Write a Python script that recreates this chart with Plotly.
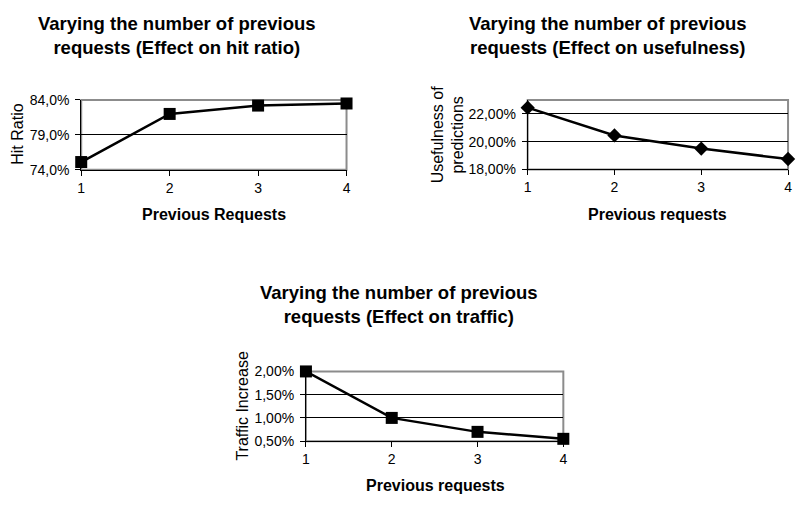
import plotly.graph_objects as go

W, H = 797, 506

prev_requests = [1, 2, 3, 4]
hit_ratio = [75.1, 82.0, 83.2, 83.5]
usefulness = [22.45, 20.45, 19.5, 18.75]
traffic = [2.0, 1.0, 0.7, 0.55]

hit_ticks = [74, 79, 84]
hit_ticktext = ["74,0%", "79,0%", "84,0%"]
use_ticks = [18, 20, 22]
use_ticktext = ["18,00%", "20,00%", "22,00%"]
traf_ticks = [0.5, 1.0, 1.5, 2.0]
traf_ticktext = ["0,50%", "1,00%", "1,50%", "2,00%"]

FONT = "Liberation Sans, Arial, Helvetica, sans-serif"


def px_x(p):
    return p / W


def px_y(p):
    return 1 - p / H


fig = go.Figure()

panels = [
    dict(y=hit_ratio, sym="square", size=12,
         xdom=[78, 346], ydom=[95, 167], yrange=[74, 84],
         tv=hit_ticks, tt=hit_ticktext),
    dict(y=usefulness, sym="diamond", size=11,
         xdom=[529, 792], ydom=[95, 166.7], yrange=[18, 23],
         tv=use_ticks, tt=use_ticktext),
    dict(y=traffic, sym="square", size=12,
         xdom=[305, 565], ydom=[375.3, 447.3], yrange=[0.5, 2.0],
         tv=traf_ticks, tt=traf_ticktext),
]

layout = dict(
    width=W, height=H, margin=dict(l=0, r=0, t=0, b=0),
    paper_bgcolor="white", plot_bgcolor="white", showlegend=False,
    hovermode=False,
    font=dict(family=FONT, color="black", size=14),
)
shapes = []
for i, p in enumerate(panels):
    sfx = "" if i == 0 else str(i + 1)
    fig.add_trace(go.Scatter(
        x=prev_requests, y=p["y"], mode="lines+markers",
        xaxis="x" + sfx, yaxis="y" + sfx, cliponaxis=False,
        line=dict(color="black", width=2.5),
        marker=dict(symbol=p["sym"], size=p["size"], color="black"),
    ))
    layout["xaxis" + sfx] = dict(
        domain=[px_x(p["xdom"][0]), px_x(p["xdom"][1])],
        range=[1, 4], tickvals=prev_requests, ticks="outside", ticklen=5,
        tickcolor="black", showline=True, linecolor="black", linewidth=1,
        showgrid=False, zeroline=False, anchor="y" + sfx,
        tickfont=dict(size=14), fixedrange=True,
    )
    layout["yaxis" + sfx] = dict(
        domain=[px_y(p["ydom"][1]), px_y(p["ydom"][0])],
        range=p["yrange"], tickvals=p["tv"], ticktext=p["tt"],
        ticks="outside", ticklen=5, tickcolor="black",
        showline=True, linecolor="black", linewidth=1,
        showgrid=True, gridcolor="black", gridwidth=1, zeroline=False,
        anchor="x" + sfx, tickfont=dict(size=14), fixedrange=True,
        ticklabelstandoff=3,
    )
    shapes.append(dict(
        type="rect", xref="x" + sfx + " domain", yref="y" + sfx + " domain",
        x0=0, x1=1, y0=0, y1=1, line=dict(color="#8c8c8c", width=2),
        layer="below",
    ))

layout["shapes"] = shapes

ann = []
titles = [
    ("Varying the number of previous<br>requests (Effect on hit ratio)", 175, 28),
    ("Varying the number of previous<br>requests (Effect on usefulness)", 610, 28),
    ("Varying the number of previous<br>requests (Effect on traffic)", 399, 306.5),
]
for t, x, y in titles:
    ann.append(dict(text="<b>%s</b>" % t, x=px_x(x), y=px_y(y), xref="paper",
                    yref="paper", showarrow=False, xanchor="center",
                    yanchor="middle", font=dict(size=18.5, family=FONT)))

xtitles = [("Previous Requests", 212, 213), ("Previous requests", 660, 213),
           ("Previous requests", 436, 493)]
for t, x, y in xtitles:
    ann.append(dict(text="<b>%s</b>" % t, x=px_x(x), y=px_y(y), xref="paper",
                    yref="paper", showarrow=False, xanchor="center",
                    yanchor="middle", font=dict(size=16, family=FONT)))

ytitles = [("Hit Ratio", 14, 130), ("Usefulness of<br>predictions", 448, 131),
           ("Traffic Increase", 240, 411)]
for t, x, y in ytitles:
    ann.append(dict(text=t, x=px_x(x), y=px_y(y), xref="paper", yref="paper",
                    showarrow=False, xanchor="center", yanchor="middle",
                    textangle=-90, font=dict(size=16, family=FONT)))

layout["annotations"] = ann
fig.update_layout(**layout)
fig.write_html(
    "out.html",
    config={"displayModeBar": False, "staticPlot": True},
    post_script="document.body.style.margin='0px';document.body.style.overflow='hidden';",
)
